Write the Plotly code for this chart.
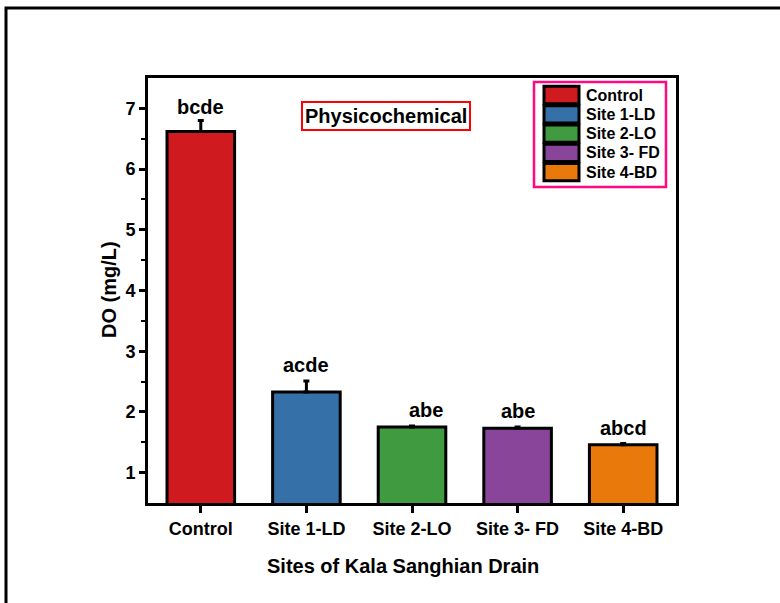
import plotly.graph_objects as go

# ---- data ----
sites = ["Control", "Site 1-LD", "Site 2-LO", "Site 3- FD", "Site 4-BD"]
do_values = [6.62, 2.33, 1.75, 1.73, 1.46]
do_errors = [0.18, 0.18, 0.02, 0.02, 0.02]
letters = ["bcde", "acde", "abe", "abe", "abcd"]
colors = ["#cf1a1f", "#3570a8", "#409a3f", "#88459a", "#ea790b"]

# ---- layout geometry (pixels) ----
W, H = 780, 603
L, R, T, B = 148, 104, 78, 100
PW, PH = W - L - R, H - T - B

def px2x(px):
    return (px - L) / PW

def py2y(py):
    return (H - B - py) / PH

FONT = "Liberation Sans, Arial, sans-serif"

fig = go.Figure()
fig.add_trace(go.Bar(
    x=sites, y=do_values, width=0.64,
    marker=dict(color=colors, line=dict(color="black", width=3)),
    error_y=dict(type="data", array=do_errors, arrayminus=[0] * len(do_errors),
                 symmetric=False, color="black", thickness=3, width=3),
    showlegend=False,
))

# significance letters
for i, (s, v, e, t) in enumerate(zip(sites, do_values, do_errors, letters)):
    fig.add_annotation(x=s, y=v + e, text="<b>%s</b>" % t, showarrow=False,
                       yanchor="bottom", yshift=(1 if i == 0 else 3),
                       xshift=(14 if i == 2 else 0),
                       font=dict(family=FONT, size=20, color="black"))

# "Physicochemical" box
fig.add_annotation(xref="paper", yref="paper", x=px2x(386), y=py2y(101),
                   text="<b>Physicochemical</b>", showarrow=False,
                   font=dict(family=FONT, size=20, color="black"),
                   bordercolor="#ff0000", borderwidth=2, borderpad=2,
                   bgcolor="white")

# x-axis title
fig.add_annotation(xref="paper", yref="paper", x=px2x(403), y=py2y(566),
                   text="<b>Sites of Kala Sanghian Drain</b>", showarrow=False,
                   xanchor="center", yanchor="middle",
                   font=dict(family=FONT, size=20, color="black"))

# y-axis title
fig.add_annotation(xref="paper", yref="paper", x=px2x(109), y=py2y(290),
                   text="<b>DO (mg/L)</b>", showarrow=False, textangle=-90,
                   xanchor="center", yanchor="middle",
                   font=dict(family=FONT, size=20, color="black"))

# custom legend
shapes = []
leg_x0, leg_x1, leg_y0, leg_y1 = 534, 666, 82, 187
shapes.append(dict(type="rect", xref="paper", yref="paper",
                   x0=px2x(leg_x0), x1=px2x(leg_x1), y0=py2y(leg_y1), y1=py2y(leg_y0),
                   line=dict(color="#ff0a84", width=2.5), fillcolor="white", layer="above"))
row_h = 19.3
first_c = 95
for i, (s, c) in enumerate(zip(sites, colors)):
    cy = first_c + i * row_h
    shapes.append(dict(type="rect", xref="paper", yref="paper",
                       x0=px2x(544), x1=px2x(579), y0=py2y(cy + row_h / 2 - 1), y1=py2y(cy - row_h / 2 + 1),
                       line=dict(color="black", width=3), fillcolor=c, layer="above"))
    fig.add_annotation(xref="paper", yref="paper", x=px2x(584), y=py2y(cy),
                       xanchor="left", yanchor="middle", text="<b>%s</b>" % s,
                       showarrow=False, font=dict(family=FONT, size=16, color="black"))

# outer frame
shapes.append(dict(type="rect", xref="paper", yref="paper",
                   x0=px2x(6), x1=px2x(900), y0=py2y(800), y1=py2y(8),
                   line=dict(color="black", width=3), fillcolor="rgba(0,0,0,0)"))

fig.update_layout(
    width=W, height=H,
    margin=dict(l=L, r=R, t=T, b=B, autoexpand=False),
    paper_bgcolor="white", plot_bgcolor="white",
    font=dict(family=FONT, color="black"),
    shapes=shapes,
    bargap=0.36,
)
fig.update_xaxes(
    range=[-0.5, 4.5], showline=True, linecolor="black", linewidth=3, mirror=True,
    ticks="outside", ticklen=7, tickwidth=3, tickcolor="black",
    tickfont=dict(family=FONT, size=18, color="black"), showgrid=False,
    tickvals=sites, ticktext=["<b>%s</b>" % s for s in sites],
    ticklabelstandoff=0,
)
fig.update_yaxes(
    range=[0.5, 7.5], showline=True, linecolor="black", linewidth=3, mirror=True,
    ticks="outside", ticklen=6, tickwidth=3, tickcolor="black",
    tickvals=[1, 2, 3, 4, 5, 6, 7], ticktext=["<b>%d</b>" % v for v in range(1, 8)],
    tickfont=dict(family=FONT, size=18, color="black"), showgrid=False, zeroline=False,
    minor=dict(tickvals=[1.5, 2.5, 3.5, 4.5, 5.5, 6.5], ticks="outside", ticklen=4,
               tickwidth=2, tickcolor="black", showgrid=False),
)

fig.write_html("out.html")
